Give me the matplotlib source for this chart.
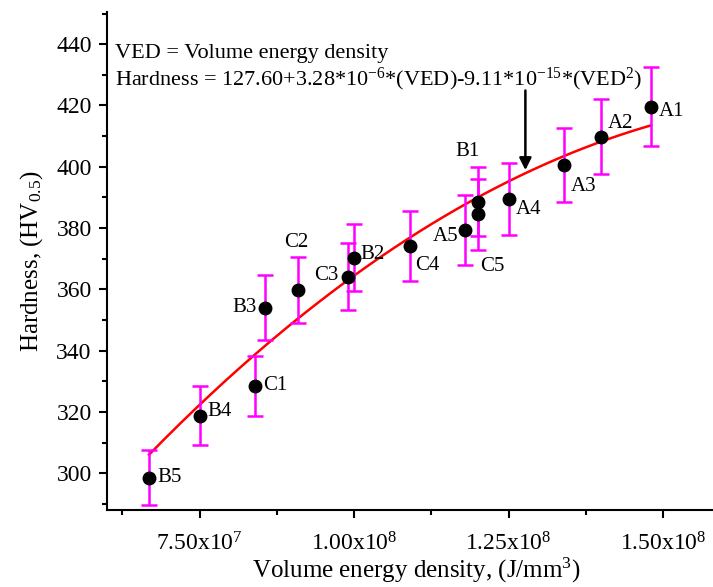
import numpy as np
import matplotlib.pyplot as plt
from matplotlib.ticker import MultipleLocator, FixedLocator

plt.rcParams['font.family'] = 'Liberation Serif'
plt.rcParams['mathtext.fontset'] = 'custom'
plt.rcParams['mathtext.rm'] = 'Liberation Serif'
plt.rcParams['mathtext.it'] = 'Liberation Serif:italic'

# samples: volume energy density (J/mm3), hardness (HV0.5) and error
labels = ['B5', 'B4', 'C1', 'B3', 'C2', 'C3', 'B2', 'C4', 'A5', 'B1', 'C5', 'A4', 'A3', 'A2', 'A1']
ved = [6.68e7, 7.50e7, 8.39e7, 8.56e7, 9.09e7, 9.90e7, 1.00e8, 1.09e8, 1.18e8, 1.20e8, 1.20e8,
       1.25e8, 1.34e8, 1.40e8, 1.48e8]
hv = [298.5, 318.8, 328.5, 354.0, 359.8, 364.1, 370.3, 374.2, 379.4, 388.6, 384.5,
      389.5, 400.6, 409.8, 419.6]
err = [9.0, 9.5, 9.9, 10.6, 10.8, 11.0, 11.0, 11.5, 11.5, 11.2, 11.5, 11.8, 12.0, 12.3, 12.8]

# label offsets in pixels (dx, dy, ha)
offs = {'B5': (8, 0, 'left'), 'B4': (8, 4, 'left'), 'C1': (8, 0, 'left'),
        'B3': (-8, 0, 'right'), 'C2': (-2, 47, 'center'), 'C3': (-10, 1, 'right'),
        'B2': (6, 3, 'left'), 'C4': (5, -20, 'left'), 'A5': (-7, -7, 'right'),
        'B1': (-10, 50, 'center'), 'C5': (2, -52, 'left'), 'A4': (7, -11, 'left'),
        'A3': (6, -22, 'left'), 'A2': (6, 13, 'left'), 'A1': (8, -5, 'left')}

# fitted equation given on the chart
c0, c1, c2 = 127.60, 3.28e-6, -9.11e-15

fig = plt.figure(figsize=(7.13, 5.87), dpi=100)
ax = fig.add_axes([107/713, 77/587, 618/713, 498.3/587])

xf = np.linspace(min(ved), max(ved), 200)
ax.plot(xf, c0 + c1*xf + c2*xf**2, color='red', lw=1.8, zorder=2)
ax.errorbar(ved, hv, yerr=err, fmt='o', color='black', ms=9, ecolor='#FF00FF',
            elinewidth=1.8, capsize=6, capthick=1.8, zorder=3)

for lab, x, y in zip(labels, ved, hv):
    dx, dy, ha = offs[lab]
    ax.annotate(lab, (x, y), xytext=(dx, dy), textcoords='offset pixels',
                ha=ha, va='center', fontsize=15)

ax.text(6.13e7, 437.0, 'VED = Volume energy density', fontsize=16, va='center')
ax.text(6.13e7, 428.5, 'Hardness = 127.60+3.28*10$^{-6}$*(VED)-9.11*10$^{-15}$*(VED$^{2}$)',
        fontsize=16, va='center')
ax.annotate('', xy=(1.277e8, 398), xytext=(1.277e8, 425.8),
            arrowprops=dict(arrowstyle='-|>', color='black', lw=1.8, mutation_scale=18))

ax.set_xlim(6.0e7, 1.6e8)
ax.set_ylim(288, 450.6)
ax.yaxis.set_major_locator(MultipleLocator(20))
ax.yaxis.set_minor_locator(MultipleLocator(10))
ax.xaxis.set_major_locator(FixedLocator([7.5e7, 1.0e8, 1.25e8, 1.5e8]))
ax.xaxis.set_minor_locator(FixedLocator([6.25e7, 8.75e7, 1.125e8, 1.375e8]))
ax.set_xticklabels(['7.50x10$^{7}$', '1.00x10$^{8}$', '1.25x10$^{8}$', '1.50x10$^{8}$'])
ax.tick_params(which='both', direction='out', width=1.5, labelsize=17)
ax.tick_params(which='major', length=6, pad=5)
ax.tick_params(axis='x', which='major', pad=10)
ax.tick_params(which='minor', length=3.5)

for s in ['top', 'right']:
    ax.spines[s].set_visible(False)
for s in ['left', 'bottom']:
    ax.spines[s].set_linewidth(1.5)

ax.set_xlabel('Volume energy density, (J/mm$^{3}$)', fontsize=18, labelpad=0)
ax.set_ylabel('Hardness, (HV$_{0.5}$)', fontsize=18, labelpad=8)

fig.savefig('out.png', dpi=100)
